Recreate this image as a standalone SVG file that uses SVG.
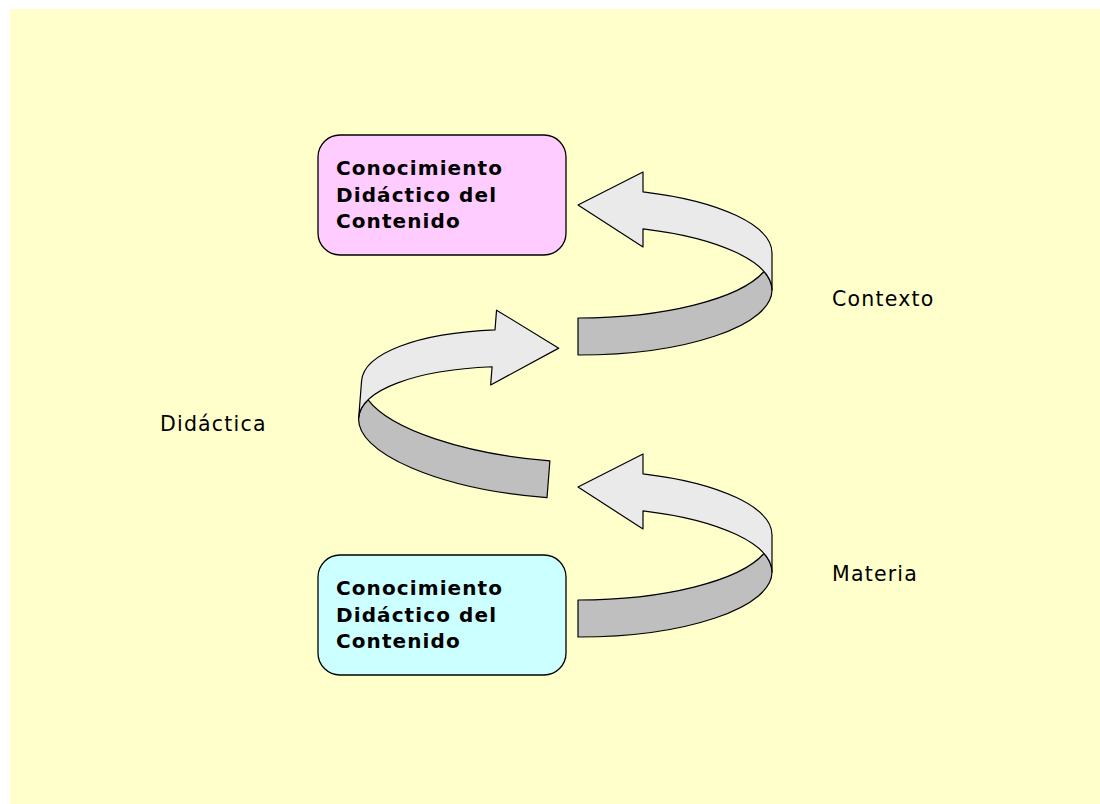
<svg xmlns="http://www.w3.org/2000/svg" xmlns:xlink="http://www.w3.org/1999/xlink" width="1100" height="804" viewBox="0 0 1100 804">
<style>
.box{stroke:#000;stroke-width:1.3}
.bt{font-family:"DejaVu Sans","Verdana",sans-serif;font-weight:bold;font-size:20px;letter-spacing:1.1px;fill:#000}
.lb{font-family:"DejaVu Sans","Verdana",sans-serif;font-size:20.5px;letter-spacing:1.2px;fill:#000}
.lt{fill:#EAEAEA;stroke:#000;stroke-width:1.2;stroke-linejoin:round}
.dk{fill:#BFBFBF;stroke:#000;stroke-width:1.2;stroke-linejoin:round}
</style>
<defs>
<g id="ribbon">
<path class="dk" d="M0,65 A194,65 0 0,0 186,18.5 A194,65 0 0,1 194,37 A194,65 0 0,1 0,102 Z"/>
<path class="lt" d="M0,-48 L65,-81 L65,-61.2 A194,65 0 0,1 194,0 L194,37 A194,65 0 0,0 65,-24.2 L65,-6 Z"/>
</g>
</defs>
<rect x="10" y="9" width="1090" height="795" fill="#FFFFCC"/>
<g id="connectors">
<use xlink:href="#ribbon" transform="translate(578,253)"/>
<use xlink:href="#ribbon" transform="translate(555,396) rotate(4.5) scale(-1,1)"/>
<use xlink:href="#ribbon" transform="translate(578,535)"/>
</g>
<g id="node-top">
<rect class="box" x="318" y="135" width="248" height="120" rx="22" fill="#FFCCFF"/>
<text class="bt"><tspan x="336" y="175">Conocimiento</tspan><tspan x="336" y="202">Didáctico del</tspan><tspan x="336" y="228">Contenido</tspan></text>
</g>
<g id="node-bottom">
<rect class="box" x="318" y="555" width="248" height="120" rx="22" fill="#CCFFFF"/>
<text class="bt"><tspan x="336" y="595">Conocimiento</tspan><tspan x="336" y="622">Didáctico del</tspan><tspan x="336" y="648">Contenido</tspan></text>
</g>
<g id="label-contexto"><text class="lb" x="832" y="306">Contexto</text></g>
<g id="label-didactica"><text class="lb" x="160" y="431">Didáctica</text></g>
<g id="label-materia"><text class="lb" x="832" y="581">Materia</text></g>
</svg>
